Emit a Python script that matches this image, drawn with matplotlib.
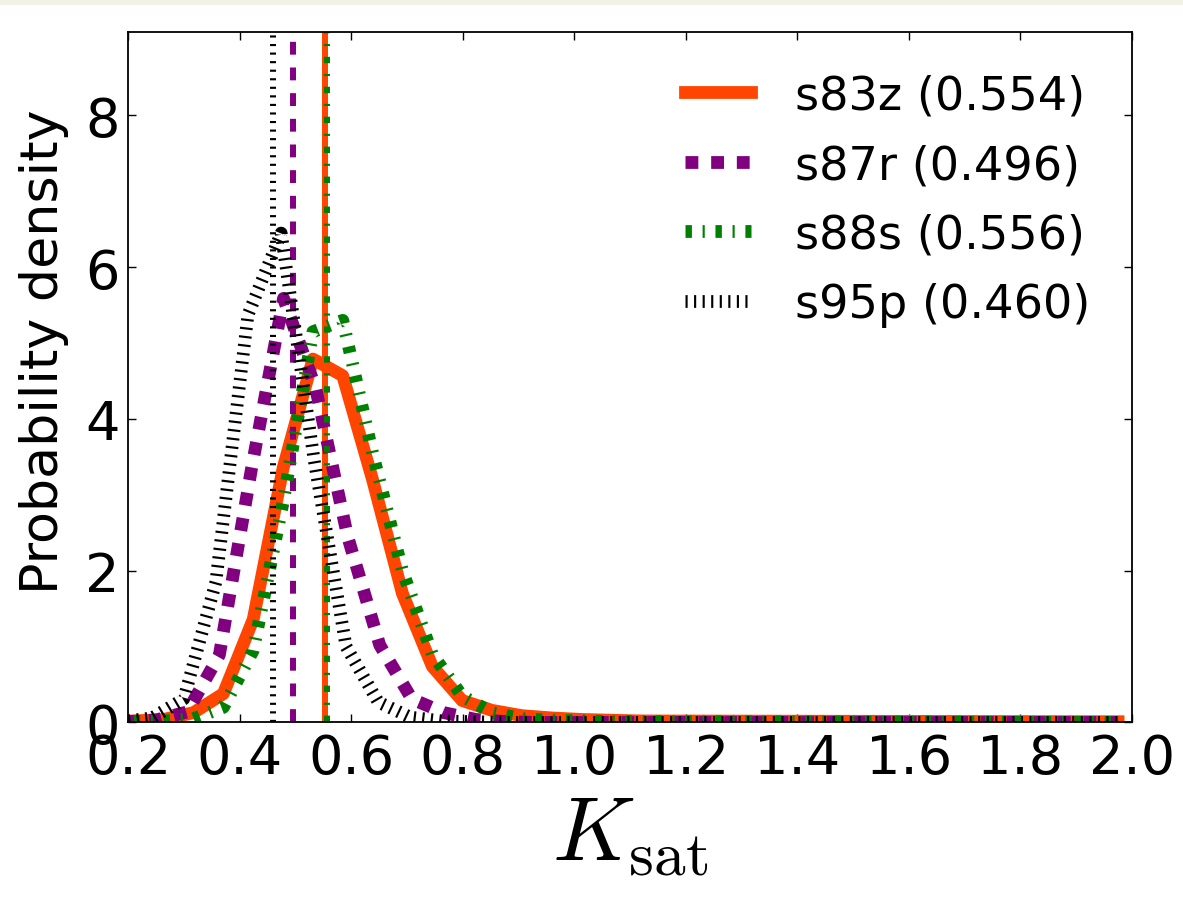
import matplotlib
matplotlib.use('Agg')
import matplotlib.pyplot as plt
from matplotlib.patches import Rectangle

# series (x = bin centre, y = probability density)
names = ['s83z', 's87r', 's88s', 's95p']
medians = [0.554, 0.496, 0.556, 0.460]

x_s83z = [0.2105, 0.264, 0.3175, 0.371, 0.4245, 0.478, 0.5315, 0.585, 0.6385, 0.692,
          0.7455, 0.799, 0.8525, 0.906, 0.9595, 1.013, 1.0665, 1.12, 1.975]
y_s83z = [0.02, 0.04, 0.13, 0.38, 1.36, 3.35, 4.79, 4.57, 3.2, 1.7,
          0.74, 0.29, 0.16, 0.09, 0.06, 0.04, 0.03, 0.02, 0.01]

x_s87r = [0.1913, 0.2488, 0.3063, 0.3638, 0.4213, 0.4788, 0.5363, 0.5938, 0.6513, 0.7088,
          0.7663, 0.8238, 0.8813, 0.9388, 1.975]
y_s87r = [0.01, 0.03, 0.14, 0.89, 3.34, 5.59, 4.41, 2.45, 1.02, 0.31,
          0.13, 0.04, 0.01, 0.0, 0.0]

x_s88s = [0.2105, 0.264, 0.3175, 0.371, 0.4245, 0.478, 0.5315, 0.585, 0.6385, 0.692,
          0.7455, 0.799, 0.8525, 0.906, 0.9595, 1.013, 1.0665, 1.12, 1.975]
y_s88s = [0.01, 0.02, 0.05, 0.2, 0.95, 2.9, 5.15, 5.3, 3.55, 2.0,
          0.9, 0.35, 0.13, 0.05, 0.03, 0.02, 0.01, 0.01, 0.0]

x_s95p = [0.1855, 0.243, 0.300, 0.3575, 0.415, 0.4746, 0.5335, 0.591, 0.6486, 0.706,
          0.764, 0.822, 0.879, 1.975]
y_s95p = [0.01, 0.06, 0.31, 1.85, 5.37, 6.45, 3.47, 1.0, 0.27, 0.07,
          0.02, 0.01, 0.0, 0.0]

xs = [x_s83z, x_s87r, x_s88s, x_s95p]
ys = [y_s83z, y_s87r, y_s88s, y_s95p]

xtick_vals = [0.2, 0.4, 0.6, 0.8, 1.0, 1.2, 1.4, 1.6, 1.8, 2.0]
ytick_vals = [0, 2, 4, 6, 8]

# old-style (unscaled) dash patterns
plt.rcParams['lines.scale_dashes'] = False
plt.rcParams['mathtext.fontset'] = 'cm'
plt.rcParams['font.family'] = 'DejaVu Sans'
k = 1.54
colors = ['#ff4500', '#800080', '#008000', 'k']
styles = ['-', (0, (6 * k, 6 * k)), (0, (3 * k, 5 * k, 1 * k, 5 * k)), (0, (1 * k, 3 * k))]

fig = plt.figure(figsize=(11.83, 9.12), dpi=100)
fig.patches.append(Rectangle((0, 1 - 6 / 912), 1, 6 / 912, transform=fig.transFigure,
                             facecolor='#f2f1e6', edgecolor='none'))
ax = fig.add_axes([0.1082, 0.2067, 0.8487, 0.7571])

for name, med, x, y, c, ls in zip(names, medians, xs, ys, colors, styles):
    ax.plot(x, y, color=c, linestyle=ls, linewidth=9.2,
            label='%s (%.3f)' % (name, med))
    ax.axvline(med, color=c, linestyle=ls, linewidth=4.3)

ax.set_xlim(0.2, 2.0)
ax.set_ylim(0, 9.1)
ax.set_xticks(xtick_vals)
ax.set_xticklabels(['%.1f' % v for v in xtick_vals])
ax.set_yticks(ytick_vals)
ax.tick_params(direction='in', length=6, width=1, top=True, right=True, labelsize=39)
ax.tick_params(axis='x', pad=7)
ax.tick_params(axis='y', pad=6)
for sp in ax.spines.values():
    sp.set_linewidth(1.3)

ax.set_ylabel('Probability density', fontsize=37.6)
ax.yaxis.set_label_coords(-0.059, 0.539)
ax.set_xlabel(r'$K_{\rm sat}$', fontsize=65, labelpad=4)

ax.legend(loc='upper right', frameon=False, fontsize=33.3, handlelength=1.42,
          handletextpad=0.95, labelspacing=0.53)

fig.savefig('out.png', dpi=100)
